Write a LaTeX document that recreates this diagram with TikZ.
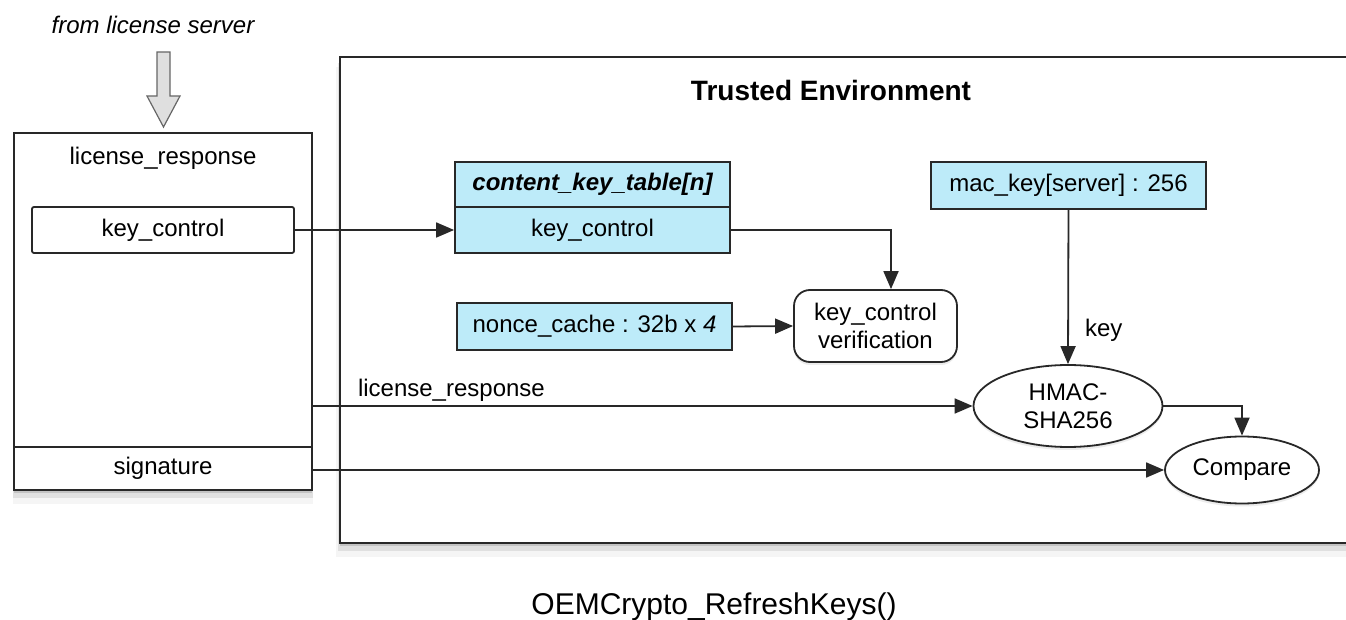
\documentclass[tikz,border=0pt]{standalone}
\usepackage{fontspec}
\setmainfont{Liberation Sans}
\usetikzlibrary{arrows.meta,calc,shadows,shapes.geometric}
\definecolor{lblue}{RGB}{189,235,249}
\definecolor{edge}{RGB}{40,40,40}
\begin{document}
\begin{tikzpicture}[x=0.5pt,y=-0.5pt,
  font=\fontsize{12}{14}\selectfont,
  box/.style={draw=edge, line width=0.9pt, inner sep=0pt, text=black, fill=white},
  bluebox/.style={box, fill=lblue},
  conn/.style={draw=edge, line width=0.9pt, -{Triangle[length=9pt,width=7.5pt]}},
  shad/.style={drop shadow={shadow xshift=0pt, shadow yshift=-1.5pt, opacity=0.30},
               drop shadow={shadow xshift=0pt, shadow yshift=-3.5pt, shadow scale=1.004, opacity=0.18},
               drop shadow={shadow xshift=0pt, shadow yshift=-6pt, shadow scale=1.008, opacity=0.08}},
  smallshad/.style={drop shadow={shadow xshift=0pt, shadow yshift=-1.5pt, opacity=0.15}},
  lbl/.style={inner sep=2pt, text=black}]
\useasboundingbox (0,0) rectangle (1346,620);
\clip (0,0) rectangle (1346,620);

% trusted environment
\node[box, shad, minimum width=510pt, minimum height=243pt] (te) at (850,300) {};
\node[lbl, font=\fontsize{14}{16}\selectfont\bfseries] (tetitle) at (831,90) {Trusted Environment};

% left panel
\node[box, shad, minimum width=149pt, minimum height=178.5pt] (resp) at (163,311.5) {};
\node[lbl] (resptitle) at (163,158) {license\_response};
\node[box, rounded corners=1pt, minimum width=131pt, minimum height=23pt] (kc) at (163,230) {key\_control};
\node[box, minimum width=149pt, minimum height=21.5pt] (sig) at (163,468.5) {signature};

% from license server
\node[lbl, font=\fontsize{12}{14}\selectfont\itshape] (srv) at (153,25) {from license server};
\draw[draw=gray!80!black, fill=gray!25, line width=0.6pt]
  (157,52) -- (170,52) -- (170,96) -- (180,96) -- (163.5,127) -- (147,96) -- (157,96) -- cycle;

% trusted nodes
\node[bluebox, minimum width=137.5pt, minimum height=22.5pt, font=\fontsize{12}{14}\selectfont\bfseries\itshape] (ckt) at (592.5,184.5) {content\_key\_table[n]};
\node[bluebox, minimum width=137.5pt, minimum height=23pt] (ckkc) at (592.5,230) {key\_control};
\node[bluebox, minimum width=137.5pt, minimum height=23.5pt] (nonce) at (594.5,326.5) {nonce\_cache : 32b x \textit{4}};
\node[box, smallshad, rounded corners=8pt, minimum width=81.5pt, minimum height=36pt, align=center] (ver) at (875.5,326) {key\_control\\verification};
\node[bluebox, minimum width=137.5pt, minimum height=23.5pt] (mac) at (1068.5,185.5) {mac\_key[server] : 256};
\node[box, smallshad, ellipse, minimum width=94.5pt, minimum height=41pt, align=center] (hmac) at (1068,406) {HMAC-\\SHA256};
\node[box, smallshad, ellipse, minimum width=77pt, minimum height=33.5pt] (cmp) at (1242,470) {Compare};

% caption
\node[lbl, anchor=base, font=\fontsize{15}{17}\selectfont] (cap) at (714,615) {OEMCrypto\_RefreshKeys()};

% connectors
\draw[conn] (kc.east) -- (ckkc.west);
\draw[conn] (ckkc.east) -| ($(ver.north)+(15.5,0)$);
\draw[conn] (nonce.east) -- (ver.west);
\draw[conn] (mac.south) -- node[pos=0.78, right=6pt, lbl] (keylbl) {key} (hmac.north);
\draw[conn] (resp.east |- hmac.west) -- node[pos=0.21, above, lbl] (rlbl) {license\_response} (hmac.west);
\draw[conn] (hmac.east) -| (cmp.north);
\draw[conn] (sig.east |- cmp.west) -- (cmp.west);
\end{tikzpicture}
\end{document}
